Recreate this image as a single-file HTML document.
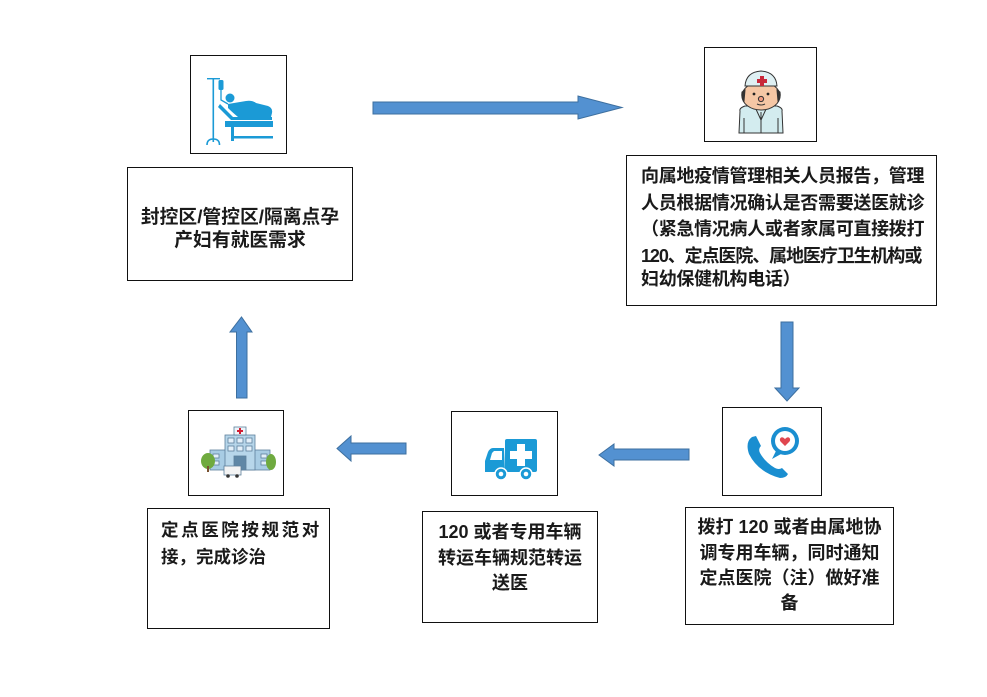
<!DOCTYPE html>
<html>
<head>
<meta charset="utf-8">
<style>
  html,body{margin:0;padding:0;background:#fff;}
  #c{position:relative;width:987px;height:697px;overflow:hidden;background:#fff;
     font-family:"Liberation Sans","Noto Sans CJK SC",sans-serif;font-weight:700;color:#1a1a1a;}
  .box{position:absolute;border:1px solid #111;box-sizing:border-box;background:#fff;}
  .ln{position:absolute;white-space:nowrap;}
  svg{position:absolute;left:0;top:0;}
</style>
</head>
<body>
<div id="c">
  <!-- boxes -->
  <div class="box" style="left:190px;top:55px;width:97px;height:99px;"></div>
  <div class="box" style="left:127px;top:167px;width:226px;height:114px;"></div>
  <div class="box" style="left:704px;top:47px;width:113px;height:95px;"></div>
  <div class="box" style="left:626px;top:155px;width:311px;height:151px;"></div>
  <div class="box" style="left:188px;top:410px;width:96px;height:86px;"></div>
  <div class="box" style="left:147px;top:508px;width:183px;height:121px;"></div>
  <div class="box" style="left:451px;top:411px;width:107px;height:85px;"></div>
  <div class="box" style="left:422px;top:511px;width:176px;height:112px;"></div>
  <div class="box" style="left:722px;top:407px;width:100px;height:89px;"></div>
  <div class="box" style="left:685px;top:507px;width:209px;height:118px;"></div>

  <!-- box 1 text -->
  <div class="ln" style="left:127px;width:226px;text-align:center;top:205px;font-size:18.8px;line-height:24px;">封控区/管控区/隔离点孕</div>
  <div class="ln" style="left:127px;width:226px;text-align:center;top:228px;font-size:18.8px;line-height:24px;">产妇有就医需求</div>

  <!-- box 2 text -->
  <div class="ln" style="left:641px;top:164px;font-size:18px;line-height:24px;letter-spacing:-0.3px;">向属地疫情管理相关人员报告，管理</div>
  <div class="ln" style="left:641px;top:191px;font-size:18px;line-height:24px;letter-spacing:-0.3px;">人员根据情况确认是否需要送医就诊</div>
  <div class="ln" style="left:641px;top:217px;font-size:18px;line-height:24px;letter-spacing:-0.3px;">（紧急情况病人或者家属可直接拨打</div>
  <div class="ln" style="left:641px;top:244px;font-size:18px;line-height:24px;letter-spacing:-1.1px;">120、定点医院、属地医疗卫生机构或</div>
  <div class="ln" style="left:641px;top:267px;font-size:18px;line-height:24px;letter-spacing:-0.3px;">妇幼保健机构电话）</div>

  <!-- box 3 text -->
  <div class="ln" style="left:161px;top:518px;font-size:17.5px;line-height:24px;letter-spacing:2.6px;">定点医院按规范对</div>
  <div class="ln" style="left:161px;top:545px;font-size:17.5px;line-height:24px;">接，完成诊治</div>

  <!-- box 4 text -->
  <div class="ln" style="left:422px;width:176px;text-align:center;top:520px;font-size:18px;line-height:24px;">120 或者专用车辆</div>
  <div class="ln" style="left:422px;width:176px;text-align:center;top:546px;font-size:18px;line-height:24px;">转运车辆规范转运</div>
  <div class="ln" style="left:422px;width:176px;text-align:center;top:571px;font-size:18px;line-height:24px;">送医</div>

  <!-- box 5 text -->
  <div class="ln" style="left:685px;width:209px;text-align:center;top:515px;font-size:18px;line-height:24px;">拨打 120 或者由属地协</div>
  <div class="ln" style="left:685px;width:209px;text-align:center;top:541px;font-size:18px;line-height:24px;">调专用车辆，同时通知</div>
  <div class="ln" style="left:685px;width:209px;text-align:center;top:566px;font-size:18px;line-height:24px;">定点医院（注）做好准</div>
  <div class="ln" style="left:685px;width:209px;text-align:center;top:591px;font-size:18px;line-height:24px;">备</div>

  <svg width="987" height="697" viewBox="0 0 987 697">
    <!-- arrows -->
    <g fill="#5391d1" stroke="#3d6f9f" stroke-width="1">
      <polygon points="373,102 578,102 578,96 622,107.5 578,119 578,114 373,114"/>
      <polygon points="781,322 793,322 793,388 799,388 787,401 775,388 781,388"/>
      <polygon points="689,449 614,449 614,444 599,455 614,466 614,460 689,460"/>
      <polygon points="406,443 351,443 351,436 337,448.5 351,461 351,454 406,454"/>
      <polygon points="236.5,398 247,398 247,332 252,332 241.5,317 230,332 236.5,332"/>
    </g>

    <!-- bed / IV icon -->
    <g fill="#1b9ad6" stroke="none">
      <rect x="212.5" y="78" width="1.6" height="64"/>
      <rect x="207" y="78" width="13" height="1.4"/>
      <rect x="218.5" y="80" width="5" height="10" rx="1.5"/>
      <path d="M221 90 L221 100 L228 104" fill="none" stroke="#1b9ad6" stroke-width="1.3"/>
      <path d="M207 145 Q207 139 213.3 139 Q219.5 139 219.5 145" fill="none" stroke="#1b9ad6" stroke-width="1.6"/>
      <circle cx="230" cy="98" r="4.5"/>
      <path d="M228 104 L246 101 Q252 100 256 103 L268 106 Q273 108 272 113 L271 117 L238 117 Q232 112 228 108 Z"/>
      <path d="M220 104 L233 117 L272 117 L272 120 L231 120 L218 107 Z"/>
      <rect x="225" y="121" width="48" height="6"/>
      <rect x="231" y="127" width="3" height="14"/>
      <rect x="231" y="136" width="42" height="2.5"/>
    </g>

    <!-- doctor icon -->
    <g stroke="#333" stroke-width="1">
      <path d="M740 111 Q739 108 745 106 L777 106 Q783 108 782 111 L783 133 L739 133 Z" fill="#d3ecef"/>
      <path d="M755 107 L761 120 L767 107" fill="none"/>
      <line x1="761" y1="112" x2="761" y2="133"/>
      <path d="M744 118 L744 133 M778 118 L778 133" fill="none"/>
      <ellipse cx="761" cy="96" rx="19" ry="14" fill="#f5c7a5"/>
      <path d="M742 92 Q741 98 744 101 L745 90 Z" fill="#333"/>
      <path d="M780 92 Q781 98 778 101 L777 90 Z" fill="#333"/>
      <path d="M745 86 Q746 72 761 71 Q776 72 777 86 Z" fill="#dff0f3"/>
      <circle cx="754" cy="94" r="1.4" fill="#222" stroke="none"/>
      <circle cx="768" cy="94" r="1.4" fill="#222" stroke="none"/>
      <circle cx="761" cy="99" r="2.6" fill="#f09a80"/>
      <path d="M757 104 Q761 106 765 104" fill="none"/>
    </g>
    <g fill="#c8283a">
      <rect x="760" y="76" width="4" height="10"/>
      <rect x="757" y="79" width="10" height="4"/>
    </g>

    <!-- hospital icon -->
    <g stroke="#5d7f9c" stroke-width="0.8">
      <rect x="210" y="450" width="60" height="20" fill="#a8cce4"/>
      <rect x="225" y="435" width="30" height="35" fill="#b7d6ea"/>
      <rect x="234" y="427" width="12" height="8" fill="#eef5fa"/>
      <g fill="#e3f0f9">
        <rect x="228" y="438" width="6" height="5"/><rect x="237" y="438" width="6" height="5"/><rect x="246" y="438" width="6" height="5"/>
        <rect x="228" y="446" width="6" height="5"/><rect x="237" y="446" width="6" height="5"/><rect x="246" y="446" width="6" height="5"/>
        <rect x="213" y="454" width="6" height="4"/><rect x="261" y="454" width="6" height="4"/>
        <rect x="213" y="461" width="6" height="4"/><rect x="261" y="461" width="6" height="4"/>
      </g>
      <rect x="234" y="456" width="12" height="14" fill="#5f87a6"/>
      <rect x="224" y="466" width="17" height="9" fill="#f4f4f4"/>
    </g>
    <g fill="#d21f33"><rect x="239" y="428" width="2" height="6"/><rect x="237" y="430" width="6" height="2"/></g>
    <circle cx="228" cy="476" r="1.8" fill="#333"/><circle cx="237" cy="476" r="1.8" fill="#333"/>
    <ellipse cx="208" cy="461" rx="7" ry="8" fill="#6faa3f"/>
    <rect x="207" y="466" width="2" height="6" fill="#7a5230"/>
    <ellipse cx="271" cy="462" rx="5" ry="8" fill="#6faa3f"/>

    <!-- ambulance icon -->
    <g fill="#1b9ad6">
      <rect x="505" y="439" width="32" height="33" rx="2"/>
      <path d="M504 448 L493 448 Q490 448 488 452 L485 461 L485 472 L505 472 Z"/>
    </g>
    <path d="M494 451 L502 451 L502 460 L490 460 L492 453 Z" fill="#fff"/>
    <g fill="#fff"><rect x="517" y="444" width="8" height="22"/><rect x="510" y="451" width="22" height="8"/></g>
    <g fill="#1b9ad6" stroke="#fff" stroke-width="1.5">
      <circle cx="501" cy="474" r="6"/><circle cx="526" cy="474" r="6"/>
    </g>
    <circle cx="501" cy="474" r="2.3" fill="#fff"/><circle cx="526" cy="474" r="2.3" fill="#fff"/>

    <!-- phone icon -->
    <path d="M752 437 Q745 442 749 454 Q758 472 780 478 Q786 478 788 474 L782 468 Q779 470 775 468 Q765 462 760 453 Q758 449 761 446 L756 436 Z" fill="#1a8ed0"/>
    <circle cx="785" cy="441" r="14" fill="#1a8ed0"/>
    <path d="M776 451 L772 459 L781 454 Z" fill="#1a8ed0"/>
    <circle cx="785" cy="441" r="10" fill="#fff"/>
    <path d="M785 446 L780.5 441.5 Q779 439 781 437.5 Q783 436.5 785 439 Q787 436.5 789 437.5 Q791 439 789.5 441.5 Z" fill="#e0464f"/>
  </svg>
</div>
</body>
</html>
